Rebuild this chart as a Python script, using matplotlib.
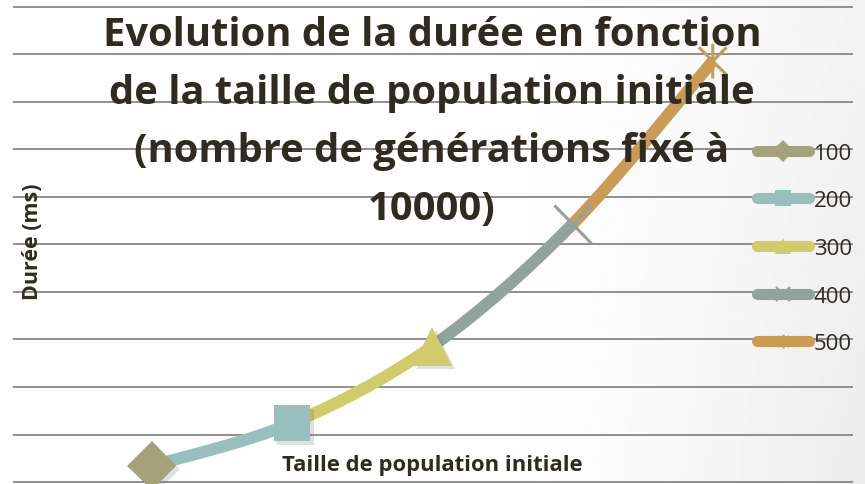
import numpy as np
import matplotlib
matplotlib.use("Agg")
import matplotlib.pyplot as plt
from matplotlib.path import Path
from matplotlib.patches import PathPatch
from matplotlib.lines import Line2D
import matplotlib.patheffects as pe

# -- donnees
tailles = [100, 200, 300, 400, 500]
durees = [170, 620, 1430, 2715, 4430]
series = ["100", "200", "300", "400", "500"]
couleurs = ["#a5a27b", "#98bfbe", "#d1cb6b", "#91a49b", "#c99b56"]
graduations = list(range(0, 5001, 500))

titre = ("Evolution de la durée en fonction\nde la taille de population initiale\n"
         "(nombre de générations fixé à\n10000)")
texte = "#2f2b21"

plt.rcParams["font.family"] = ["Open Sans", "DejaVu Sans"]

# -- marqueur etoile facon Excel (croix + trait vertical)
etoile = Path([(-1, -1), (1, 1), (-1, 1), (1, -1), (0, -1.25), (0, 1.25)],
              [Path.MOVETO, Path.LINETO] * 3)
marqueurs = ["D", "s", "^", "x", etoile]
tailles_m = [25, 26, 28, 27, 25]


def segment(i, xs, ys):
    """courbe de Bezier lissee entre le point i et i+1"""
    n = len(xs)
    p = np.column_stack([xs, ys]).astype(float)
    p0 = p[max(i - 1, 0)]
    p1, p2 = p[i], p[i + 1]
    p3 = p[min(i + 2, n - 1)]
    c1 = p1 + (p2 - p0) / 6.0
    c2 = p2 - (p3 - p1) / 6.0
    return Path([p1, c1, c2, p2], [Path.MOVETO, Path.CURVE4, Path.CURVE4, Path.CURVE4])


fig = plt.figure(figsize=(8.65, 4.85), dpi=100)

# -- fond legerement degrade sur la droite
fond = fig.add_axes([0, 0, 1, 1], zorder=-1)
gx, gy = np.meshgrid(np.linspace(0, 1, 300), np.linspace(0, 1, 200))
grad = 1 - 0.075 * np.clip((gx - 0.55) / 0.45, 0, 1) ** 1.4 * (0.6 + 0.4 * gy)
fond.imshow(grad, cmap="gray", vmin=0, vmax=1, aspect="auto", extent=(0, 1, 0, 1))
fond.axis("off")

ax = fig.add_axes([13 / 865, 0, 840 / 865, 1])
ax.set_facecolor("none")
ax.set_xlim(1, 600)
ax.set_ylim(-21, 5084)
ax.set_yticks(graduations)
ax.set_xticks([])
ax.tick_params(left=False, labelleft=False)
ax.grid(axis="y", color="#8f8f8f", lw=1.4)
ax.set_axisbelow(True)
for s in ax.spines.values():
    s.set_visible(False)

# -- courbe : chaque serie relie le point precedent a son point
for i in range(1, len(tailles)):
    ax.add_patch(PathPatch(segment(i - 1, tailles, durees), fill=False,
                           edgecolor=couleurs[i], lw=8.6, capstyle="butt", zorder=2))

ombre = [pe.SimplePatchShadow(offset=(2.5, -2.5), shadow_rgbFace="#666666", alpha=0.2), pe.Normal()]
poignees = []
for i, nom in enumerate(series):
    plein = i < 3
    ax.plot([tailles[i]], [durees[i]], ls="none", marker=marqueurs[i],
            ms=tailles_m[i], mfc=couleurs[i], mec=couleurs[i],
            mew=0 if plein else 2.2, zorder=4, path_effects=ombre)
    poignees.append(Line2D([], [], color=couleurs[i], lw=8, solid_capstyle="round",
                           marker=marqueurs[i], ms=11 if plein else 10,
                           mfc=couleurs[i], mec=couleurs[i], mew=0 if plein else 1.6))

leg = ax.legend(poignees, series, loc="upper left", bbox_to_anchor=(744 / 840, 0.704),
                frameon=False, fontsize=16, handlelength=2.35, handletextpad=0.2,
                labelspacing=1.2, borderpad=0, borderaxespad=0)
for t in leg.get_texts():
    t.set_color(texte)

# titre en premier plan, ligne de base de la derniere ligne a 220 px du haut
fig.text(432 / 865, 1 - 220 / 485, titre, ha="center", va="baseline", fontsize=28.7,
         fontweight="bold", color=texte, linespacing=1.635, zorder=5)
fig.text(432 / 865, 1 - 466 / 485, "Taille de population initiale", ha="center",
         va="center", fontsize=15.8, fontweight="bold", color=texte)
fig.text(33 / 865, 1 - 242 / 485, "Durée (ms)", ha="center", va="center",
         rotation=90, fontsize=15.5, fontweight="bold", color=texte)

fig.savefig("out.png", dpi=100)
